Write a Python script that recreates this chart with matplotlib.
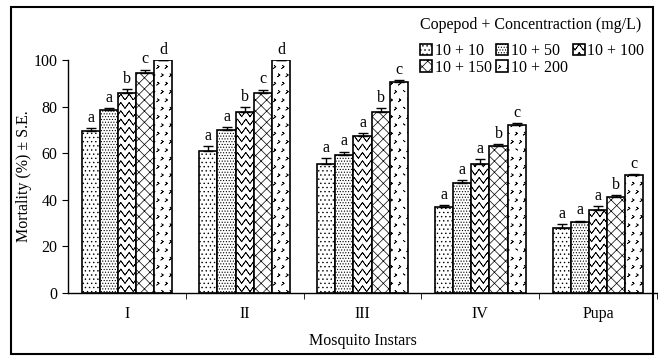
import warnings
import numpy as np
import matplotlib
matplotlib.use("Agg")
import matplotlib.pyplot as plt
import matplotlib.hatch as mhatch
from matplotlib.path import Path
from matplotlib.patches import Rectangle

warnings.filterwarnings("ignore")

# ---- data ----
instars = ["I", "II", "III", "IV", "Pupa"]
treatments = ["10 + 10", "10 + 50", "10 + 100", "10 + 150", "10 + 200"]
mort_10 = [69.5, 61, 55.4, 36.8, 27.7]
mort_50 = [78.6, 70, 59.2, 47.1, 30.6]
mort_100 = [85.7, 77.7, 67.5, 55.4, 35.6]
mort_150 = [94.4, 85.8, 77.7, 63.1, 41.3]
mort_200 = [100, 100, 90.5, 72.2, 50.6]
se_10 = [1.4, 2.0, 2.5, 0.8, 1.8]
se_50 = [0.7, 1.3, 1.5, 1.2, 0.5]
se_100 = [1.7, 2.0, 1.3, 2.0, 1.8]
se_150 = [1.5, 1.5, 1.5, 0.8, 0.8]
se_200 = [0.0, 0.0, 0.8, 0.6, 0.5]
letters_10 = ["a", "a", "a", "a", "a"]
letters_50 = ["a", "a", "a", "a", "a"]
letters_100 = ["b", "b", "a", "a", "a"]
letters_150 = ["c", "c", "b", "b", "b"]
letters_200 = ["d", "d", "c", "c", "c"]


# ---- custom hatches: zigzag ('v') and chevrons ('>') ----
# paths go forward and back over the same points so Agg's hatch fill adds nothing
class ZigZagHatch(mhatch.HatchPatternBase):
    def __init__(self, hatch, density):
        self.num_lines = int(hatch.count("v") * density)
        self.teeth = self.num_lines
        n = 2 * self.teeth + 1
        self.per_line = 2 * n - 1
        self.num_vertices = self.num_lines * self.per_line

    def set_vertices_and_codes(self, vertices, codes):
        n = 2 * self.teeth + 1
        xs = np.linspace(0, 1, n)
        amp = 0.7 / self.num_lines
        zig = np.where(np.arange(n) % 2 == 1, amp, 0.0)
        xs = np.concatenate([xs, xs[-2::-1]])
        zig = np.concatenate([zig, zig[-2::-1]])
        m = self.per_line
        for i, y0 in enumerate(np.linspace(0, 1, self.num_lines, endpoint=False)):
            vertices[i * m:(i + 1) * m, 0] = xs
            vertices[i * m:(i + 1) * m, 1] = y0 + zig
            codes[i * m] = Path.MOVETO
            codes[i * m + 1:(i + 1) * m] = Path.LINETO


class ChevronHatch(mhatch.HatchPatternBase):
    def __init__(self, hatch, density):
        self.num_rows = int(hatch.count(">") * density)
        self.cells = []
        r = self.num_rows
        if r > 0:
            for j in range(r + 1):
                for i in range(r + 1):
                    xo = (i + (0.5 if j % 2 else 0.0)) / r
                    if xo <= 1.0 + 1e-9:
                        self.cells.append((xo, j / r))
        self.num_vertices = len(self.cells) * 5

    def set_vertices_and_codes(self, vertices, codes):
        s = 0.22 / self.num_rows
        shape = np.array([[-0.4, 0.6], [0.4, 0.0], [-0.4, -0.6],
                          [0.4, 0.0], [-0.4, 0.6]]) * s
        for k, (xo, yo) in enumerate(self.cells):
            vertices[k * 5:(k + 1) * 5] = shape + [xo, yo]
            codes[k * 5] = Path.MOVETO
            codes[k * 5 + 1:(k + 1) * 5] = Path.LINETO


mhatch._hatch_types.append(ZigZagHatch)
mhatch._hatch_types.append(ChevronHatch)

plt.rcParams["font.family"] = ["Liberation Serif", "DejaVu Serif"]
plt.rcParams["hatch.linewidth"] = 0.5
plt.rcParams["font.size"] = 11.5

series = [mort_10, mort_50, mort_100, mort_150, mort_200]
errs = [se_10, se_50, se_100, se_150, se_200]
letters = [letters_10, letters_50, letters_100, letters_150, letters_200]
hatches = ["....", "......", "vv", "xxx", ">>"]

fig = plt.figure(figsize=(6.58, 3.56), dpi=100)
ax = fig.add_axes([68 / 658, 1 - 293 / 356, 589 / 658, (293 - 60) / 356])

x = np.arange(len(instars))
w = 0.154
handles = []
for k, (vals, se, lab, h) in enumerate(zip(series, errs, letters, hatches)):
    pos = x + (k - 2) * w
    bars = ax.bar(pos, vals, w, color="white", edgecolor="black",
                  linewidth=1.2, hatch=h, label=treatments[k], zorder=2)
    ax.errorbar(pos, vals, yerr=[np.zeros(len(vals)), se], fmt="none",
                ecolor="black", elinewidth=1.0, capsize=3.5, capthick=1.0,
                zorder=3)
    for p, v, e, t in zip(pos, vals, se, lab):
        ax.text(p, v + e + 0.9, t, ha="center", va="bottom", fontsize=11.5,
                clip_on=False)
    handles.append(bars)

ax.set_xlim(-0.5, 4.5)
ax.set_ylim(0, 100)
ax.set_yticks(range(0, 101, 20))
ax.set_xticks(x)
ax.set_xticklabels(instars)
ax.set_xticks(x + 0.5, minor=True)
ax.tick_params(axis="x", which="major", length=0, pad=9)
ax.tick_params(axis="x", which="minor", length=4, direction="out")
ax.tick_params(axis="y", length=4, direction="out", labelsize=11.5)
for s in ["top", "right"]:
    ax.spines[s].set_visible(False)
ax.spines["left"].set_linewidth(1.0)
ax.spines["bottom"].set_linewidth(1.0)
ax.set_ylabel("Mortality (%) \u00b1 S.E.", fontsize=11.5, labelpad=1)
ax.set_xlabel("Mosquito Instars", fontsize=11.5, labelpad=8)

fig.text(531 / 658, 1 - 25 / 356, "Copepod + Concentraction (mg/L)",
         ha="center", va="center", fontsize=11.5)
order = [0, 3, 1, 4, 2]
leg = fig.legend([handles[i] for i in order], [treatments[i] for i in order],
                 ncol=3, loc="upper right", bbox_to_anchor=(644 / 658, 1 - 43 / 356),
                 frameon=False, fontsize=11.5, borderpad=0, borderaxespad=0,
                 handlelength=0.75, handleheight=0.75, handletextpad=0.15,
                 columnspacing=0.3, labelspacing=0.05)

fig.patches.append(Rectangle((11 / 658, 2 / 356), 642 / 658, 347 / 356,
                             transform=fig.transFigure, fill=False,
                             edgecolor="black", linewidth=1.5))

fig.savefig("out.png", dpi=100)
